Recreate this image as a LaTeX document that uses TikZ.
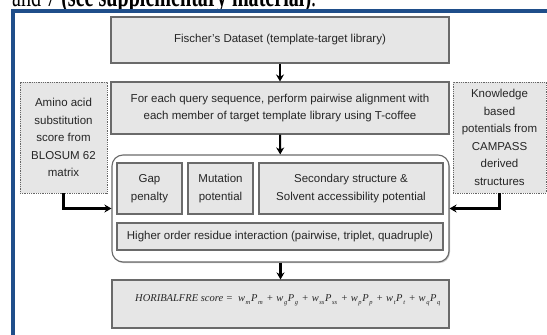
\documentclass[tikz,border=0pt]{standalone}
\usepackage{fontspec}
\setmainfont{Liberation Sans}
\newfontfamily\tms{Liberation Serif}
\usetikzlibrary{arrows.meta,shadows}
\definecolor{boxfill}{HTML}{E6E6E6}
\definecolor{boxline}{HTML}{6A6A6A}
\definecolor{frameblue}{HTML}{1F4E8A}
\newcommand\sbs[1]{\hspace{0.6pt}\raisebox{-3.8pt}{\fontsize{6.5}{6.5}\selectfont #1}\hspace{0.6pt}}
\newcommand\pls{\hspace{3pt}+\hspace{3pt}}
\begin{document}
\begin{tikzpicture}[x=1pt,y=-1pt,
  box/.style={draw=boxline, fill=boxfill, line width=1.1pt,
    drop shadow={shadow xshift=1pt,shadow yshift=-1.2pt,fill=black!40,opacity=0.6},
    align=center, inner sep=0pt, font=\fontsize{11.5}{17.5}\selectfont, text=black!85},
  sidebox/.style={draw=black!60, fill=boxfill, line width=0.8pt, dash pattern=on 1pt off 0.8pt,
    align=center, inner sep=0pt, font=\fontsize{11.5}{17.5}\selectfont, text=black!85},
  groupbox/.style={draw=boxline, fill=white, line width=1.1pt, rounded corners=11pt,
    drop shadow={shadow xshift=1pt,shadow yshift=-1.2pt,fill=black!40,opacity=0.6}},
  arr/.style={draw=black, line width=2.1pt, -{Stealth[length=7pt,width=8pt]}}]
\useasboundingbox (0,0) rectangle (547,335);
\clip (0,0) rectangle (547,335);
\fill[white] (0,0) rectangle (547,335);
% caption fragment and frame
\node[anchor=base west, inner sep=0pt] (caption) at (12,6)
  {\scalebox{1}[1.5]{\resizebox{304pt}{!}{\tms and 7 \textbf{(see supplementary material)}.}}};
\draw[frameblue, line width=4pt] (13,400) -- (13,11) -- (600,11);
% main boxes
\node[box, minimum width=338pt, minimum height=46pt] (fischer) at (280,40)
  {Fischer’s Dataset (template-target library)};
\node[box, minimum width=338pt, minimum height=52pt] (query) at (280,108)
  {For each query sequence, perform pairwise alignment with\\each member of target template library using T-coffee};
\node[sidebox, minimum width=87pt, minimum height=111pt] (amino) at (63.5,137.5)
  {Amino acid\\substitution\\score from\\BLOSUM 62\\matrix};
\node[sidebox, minimum width=93pt, minimum height=111pt] (know) at (499.5,137.5)
  {Knowledge\\based\\potentials from\\CAMPASS\\derived\\structures};
\node[groupbox, minimum width=337pt, minimum height=107pt] (grp) at (280.5,208.5) {};
\node[box, minimum width=65pt, minimum height=51pt] (gap) at (149.5,188.5) {Gap\\penalty};
\node[box, minimum width=65pt, minimum height=51pt] (mut) at (220.5,188.5) {Mutation\\potential};
\node[box, minimum width=184pt, minimum height=51pt] (sec) at (351,188.5)
  {Secondary structure \&\\Solvent accessibility potential};
\node[box, minimum width=326pt, minimum height=27pt] (high) at (280,236.5)
  {Higher order residue interaction (pairwise, triplet, quadruple)};
\node[box, minimum width=337pt, minimum height=48pt] (score) at (280.5,304) {};
\node[anchor=base west, inner sep=0pt, text=black!85, font=\tms\itshape\fontsize{10.5}{12}\selectfont] (formula) at (135,301)
  {HORIBALFRE score =\ \ w\sbs{m}P\sbs{m}\pls w\sbs{g}P\sbs{g}\pls w\sbs{ss}P\sbs{ss}\pls w\sbs{p}P\sbs{p}\pls w\sbs{t}P\sbs{t}\pls w\sbs{q}P\sbs{q}};
% connectors
\draw[arr] (fischer) -- (query);
\draw[arr] (query) -- (grp);
\draw[arr] (grp) -- (score);
\draw[arr] (amino.south) |- (grp.west);
\draw[arr] (know.south) |- (grp.east);
\end{tikzpicture}
\end{document}
